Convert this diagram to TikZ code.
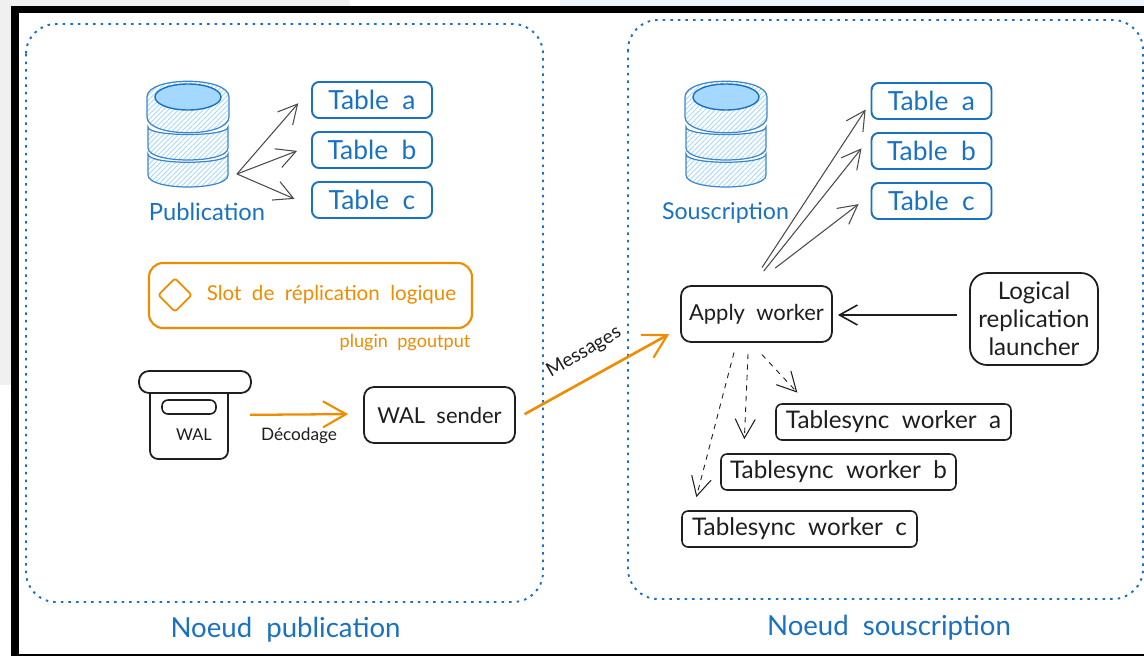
\documentclass[tikz,border=0pt]{standalone}
\usepackage{fontspec}
\setmainfont[WordSpace=2]{Lato}
\usetikzlibrary{arrows.meta,patterns.meta,shapes.geometric}
\definecolor{skblue}{HTML}{1971C2}
\definecolor{skorange}{HTML}{F08C00}
\definecolor{skink}{HTML}{1E1E1E}
\definecolor{skfill}{HTML}{A5D8FF}
\tikzset{
  barb/.style={-{Straight Barb[length=0.38cm,width=0.4cm,line width=0.6pt]}},
  tablebox/.style={draw=skblue,line width=1.1pt,rounded corners=0.14cm,minimum width=2.4cm,minimum height=0.72cm,text=skblue,font=\fontsize{15}{16}\selectfont},
  workbox/.style={draw=skink,line width=1pt,rounded corners=0.2cm,text=skink,font=\fontsize{12.5}{16}\selectfont},
  syncbox/.style={draw=skink,line width=0.9pt,rounded corners=0.12cm,minimum width=4.7cm,minimum height=0.72cm,text=skink,font=\fontsize{13.8}{16}\selectfont},
  nodeframe/.style={draw=skblue,line width=1.1pt,dash pattern=on 0.05cm off 0.102cm,rounded corners=0.6cm},
  fanarrow/.style={barb,draw=skink!80,line width=0.6pt},
  syncarrow/.style={barb,draw=skink,line width=0.5pt,dashed},
  feedarrow/.style={-{Straight Barb[length=0.46cm,width=0.52cm,line width=1.2pt]},draw=skorange,line width=1.5pt},
  dblayer/.style={draw=skblue!85,line width=0.7pt,pattern={Lines[angle=45,distance=2pt,line width=0.5pt]},pattern color=skfill},
  dbstack/.pic={
    \draw[dblayer] (-40,73) -- (-40,94) .. controls (-40,110) and (40,110) .. (40,94) -- (40,73) .. controls (40,84) and (-40,84) .. (-40,73) -- cycle;
    \draw[dblayer] (-40,46) -- (-40,67) .. controls (-40,83) and (40,83) .. (40,67) -- (40,46) .. controls (40,56) and (-40,56) .. (-40,46) -- cycle;
    \draw[dblayer] (-41,16) -- (-41,36) .. controls (-41,57) and (41,57) .. (41,36) -- (41,16) .. controls (41,-5) and (-41,-5) .. (-41,16) -- cycle;
    \draw[draw=skblue,fill=skfill,line width=0.8pt] (0,16) ellipse [x radius=33,y radius=13];
  }
}
\begin{document}
\begin{tikzpicture}[x=0.02cm,y=-0.02cm]
  \useasboundingbox (0,0) rectangle (1144,656);
  \fill[white] (0,0) rectangle (1144,656);
  \fill[black!6] (0,0) rectangle (11,385);
  \fill[black!6] (0,0) rectangle (350,5.5);
  \fill[skfill!22] (560,0) rectangle (1144,5.5);
  \fill[black] (11,5.5) rectangle (1144,13);
  \fill[black] (11,5.5) rectangle (19,656);
  \fill[black] (11,654) rectangle (1144,656);

  \draw[nodeframe] (26,24) rectangle (543,602);
  \draw[nodeframe] (628,20) rectangle (1143,599);

  \pic at (188,81) {dbstack};
  \pic at (726,81) {dbstack};

  \node[tablebox] (pubtablea) at (372,100) {Table a};
  \node[tablebox] (pubtableb) at (372,150) {Table b};
  \node[tablebox] (pubtablec) at (372,200) {Table c};
  \node[tablebox] (subtablea) at (931.5,101) {Table a};
  \node[tablebox] (subtableb) at (931.5,151) {Table b};
  \node[tablebox] (subtablec) at (931.5,201) {Table c};

  \node[text=skblue,font=\fontsize{13.5}{16}\selectfont] (publication) at (207,212) {Publication};
  \node[text=skblue,font=\fontsize{13.2}{16}\selectfont] (souscription) at (725.5,213) {Souscription};

  \node[draw=skorange,line width=1.2pt,rounded corners=0.28cm,minimum width=6.46cm,minimum height=1.3cm] (slot) at (310.5,295.5) {};
  \node[draw=skorange,line width=1pt,diamond,rounded corners=0.05cm,minimum width=0.68cm,minimum height=0.68cm,inner sep=0pt] (slotmark) at (175,295) {};
  \node[text=skorange,font=\fontsize{11.7}{14}\selectfont] (slotname) at (331.5,295) {Slot de réplication logique};
  \node[text=skorange,font=\fontsize{10.3}{12}\selectfont] (plugin) at (405,342) {plugin pgoutput};

  \node[draw=skink,line width=1pt,rounded corners=0.16cm,minimum width=1.56cm,minimum height=1.48cm] (walbox) at (189,422) {};
  \node[draw=skink,fill=white,line width=1pt,rounded corners=0.2cm,minimum width=2.24cm,minimum height=0.44cm] (wallid) at (195,382) {};
  \node[draw=skink,line width=0.9pt,rounded corners=0.12cm,minimum width=1.08cm,minimum height=0.28cm] (walslot) at (189,407) {};
  \node[text=skink,font=\fontsize{9.3}{10}\selectfont] (wallabel) at (194,435) {WAL};

  \node[workbox,minimum width=3.02cm,minimum height=1.12cm] (walsender) at (439.5,415) {WAL sender};
  \node[workbox,minimum width=3.02cm,minimum height=1.12cm] (applyworker) at (756.5,314) {Apply worker};
  \node[workbox,minimum width=2.56cm,minimum height=1.84cm,align=center,rounded corners=0.34cm,font=\fontsize{13.7}{16}\selectfont] (launcher) at (1034,319) {Logical\\replication\\launcher};

  \node[syncbox] (synca) at (893.5,422) {Tablesync worker a};
  \node[syncbox] (syncb) at (838.5,472) {Tablesync worker b};
  \node[syncbox] (syncc) at (799.5,529) {Tablesync worker c};

  \node[text=skink,font=\fontsize{9.8}{12}\selectfont] (decodage) at (299,436) {Décodage};
  \node[text=skink,rotate=30,font=\fontsize{11}{12}\selectfont] (messages) at (584,352) {Messages};

  \node[text=skblue,font=\fontsize{15.7}{18}\selectfont] (pubtitle) at (285.5,630) {Noeud publication};
  \node[text=skblue,font=\fontsize{15.7}{18}\selectfont] (subtitle) at (889,628) {Noeud souscription};

  \coordinate (pubdb) at (237,174);

  \begin{scope}[fanarrow]
    \draw[shorten >=0.39cm] (pubdb) to ([shift={(0,-11.5)}]pubtablea.west);
    \draw[shorten >=0.3cm] (pubdb) to ([shift={(0,-4.5)}]pubtableb.west);
    \draw[shorten >=0.36cm] (pubdb) to ([shift={(0,6)}]pubtablec.west);
    \draw[shorten <=0.42cm,shorten >=0.18cm] ([shift={(-6,0)}]applyworker.north) to ([shift={(0,1)}]subtablea.west);
    \draw[shorten <=0.36cm,shorten >=0.29cm] ([shift={(-4,0)}]applyworker.north) to ([shift={(0,-14)}]subtableb.west);
    \draw[shorten <=0.56cm,shorten >=0.3cm] ([shift={(-3.5,0)}]applyworker.north) to ([shift={(0,-6)}]subtablec.west);
  \end{scope}

  \begin{scope}[syncarrow]
    \draw[shorten <=0.2cm,shorten >=0.27cm] ([shift={(-20,0)}]applyworker.south) to ([shift={(11.7,0)}]syncc.north west);
    \draw[shorten <=0.22cm,shorten >=0.28cm] ([shift={(-8,0)}]applyworker.south) to ([shift={(23.5,0)}]syncb.north west);
    \draw[shorten <=0.32cm,shorten >=0.29cm] ([shift={(-5.5,0)}]applyworker.south) to ([shift={(32,0)}]synca.north west);
  \end{scope}

  \draw[-{Straight Barb[length=0.36cm,width=0.4cm,line width=0.9pt]},draw=skink,line width=1pt,shorten <=0.24cm,shorten >=0.1cm] ([shift={(0,-4)}]launcher.west) to ([shift={(0,1)}]applyworker.east);
  \draw[feedarrow,line width=1.3pt,shorten <=0.42cm,shorten >=0.3cm] ([shift={(0,-7)}]walbox.east) to ([shift={(0,-1)}]walsender.west);
  \draw[feedarrow,shorten <=0.2cm,shorten >=0.25cm] ([shift={(0,4)}]walsender.east) to ([shift={(0,14)}]applyworker.west);
\end{tikzpicture}
\end{document}
